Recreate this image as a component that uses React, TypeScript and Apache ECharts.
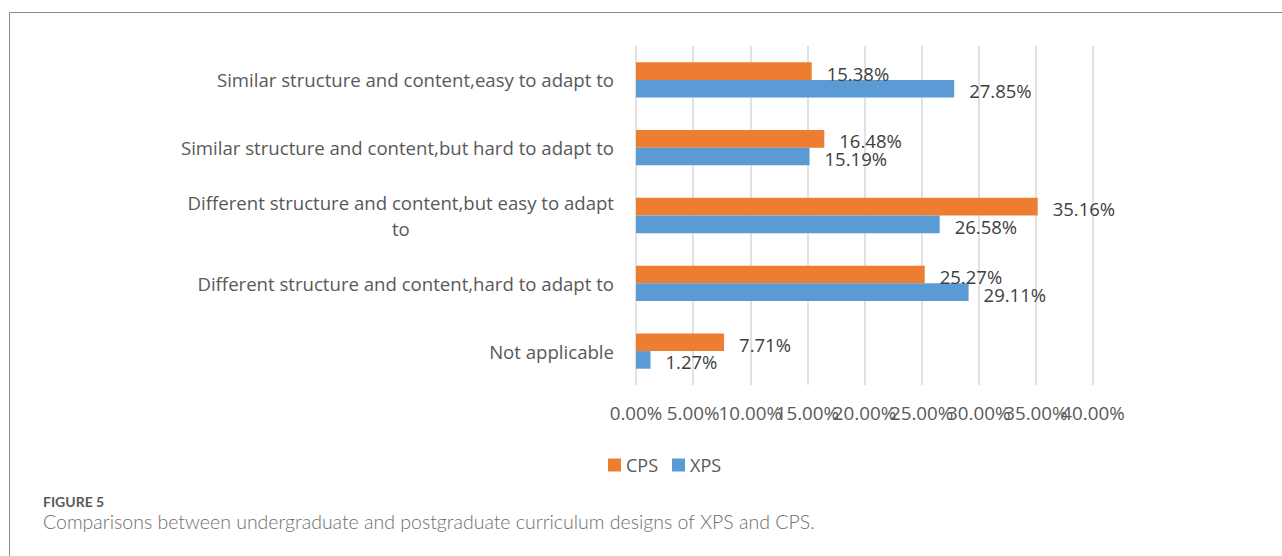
import React, { useEffect, useRef } from "react";
import * as echarts from "echarts";

const categories = [
  "Similar structure and content,easy to adapt to",
  "Similar structure and content,but hard to adapt to",
  "Different structure and content,but easy to adapt to",
  "Different structure and content,hard to adapt to",
  "Not applicable",
];
const cpsValues = [15.38, 16.48, 35.16, 25.27, 7.71];
const xpsValues = [27.85, 15.19, 26.58, 29.11, 1.27];
const seriesNames = ["CPS", "XPS"];
const axisMin = 0;
const axisMax = 40;
const axisStep = 5;
const figureLabel = "FIGURE 5";
const captionText =
  "Comparisons between undergraduate and postgraduate curriculum designs of XPS and CPS.";

const FONT = "'Open Sans', sans-serif";

export default function App() {
  const ref = useRef<HTMLDivElement>(null);
  useEffect(() => {
    if (!ref.current) return;
    const chart = echarts.init(ref.current, undefined, { renderer: "svg" });
    const labelStyle = {
      show: true,
      position: "right",
      distance: 15,
      offset: [0, 2],
      color: "#404040",
      fontFamily: FONT,
      fontSize: 18.5,
      formatter: (p: any) => p.value.toFixed(2) + "%",
    };
    const tickLabel = {
      color: "#595959",
      fontFamily: FONT,
      fontSize: 18.8,
      margin: 18,
      hideOverlap: false,
      formatter: (v: number) => v.toFixed(2) + "%",
    };
    chart.setOption({
      animation: false,
      backgroundColor: "#ffffff",
      grid: { left: 636, right: 189, top: 46, bottom: 171 },
      legend: {
        data: seriesNames,
        left: 603,
        top: 451,
        itemWidth: 13,
        itemHeight: 13,
        itemGap: 14,
        icon: "rect",
        textStyle: { color: "#595959", fontFamily: FONT, fontSize: 18 },
      },
      xAxis: [
        {
          type: "value",
          position: "bottom",
          min: axisMin,
          max: axisMax,
          interval: axisStep,
          axisLine: { show: false },
          axisTick: { show: false },
          splitLine: { show: true, lineStyle: { color: "#d9d9d9", width: 1.5 } },
          axisLabel: { ...tickLabel, showMinLabel: true, showMaxLabel: false },
        },
        {
          type: "value",
          position: "bottom",
          offset: 0,
          min: axisMin,
          max: axisMax,
          interval: axisMax - axisMin,
          axisLine: { show: false },
          axisTick: { show: false },
          splitLine: { show: false },
          axisLabel: { ...tickLabel, showMinLabel: false, showMaxLabel: true },
        },
      ],
      yAxis: {
        type: "category",
        inverse: true,
        data: categories,
        axisLine: { show: false },
        axisTick: { show: false },
        axisLabel: {
          color: "#595959",
          fontFamily: FONT,
          fontSize: 18.6,
          margin: 22,
          lineHeight: 26,
          interval: 0,
          formatter: (v: string) => {
            if (v === "Different structure and content,but easy to adapt to") {
              return "{a|Different structure and content,but easy to adapt}\n{c|to}";
            }
            return v;
          },
          rich: {
            a: { color: "#595959", fontFamily: FONT, fontSize: 18.6, lineHeight: 26 },
            c: { color: "#595959", fontFamily: FONT, fontSize: 18.6, lineHeight: 26, align: "center" },
          },
        },
      },
      series: [
        {
          name: seriesNames[0],
          type: "bar",
          xAxisIndex: 0,
          data: cpsValues,
          barCategoryGap: "48%",
          barGap: "0%",
          itemStyle: { color: "#ED7D31" },
          label: labelStyle,
        },
        {
          name: seriesNames[1],
          type: "bar",
          xAxisIndex: 0,
          data: xpsValues,
          barCategoryGap: "48%",
          barGap: "0%",
          itemStyle: { color: "#5B9BD5" },
          label: labelStyle,
        },
      ],
      graphic: [
        {
          type: "polyline",
          silent: true,
          shape: { points: [[9.5, 556], [9.5, 12.5], [1282, 12.5]] },
          style: { stroke: "#8a8a8a", lineWidth: 1, fill: null },
        },
        {
          type: "text",
          left: 43,
          top: 494,
          style: {
            text: figureLabel,
            fill: "#5a5a5a",
            font: "bold 14px Lato, sans-serif",
          },
        },
        {
          type: "text",
          left: 43,
          top: 511,
          style: {
            text: captionText,
            fill: "#6e6e6e",
            font: "300 19.5px Lato, sans-serif",
          },
        },
      ],
    });
    return () => chart.dispose();
  }, []);
  return (
    <div
      ref={ref}
      style={{ position: "absolute", left: 0, top: 0, width: 1282, height: 556 }}
    />
  );
}
